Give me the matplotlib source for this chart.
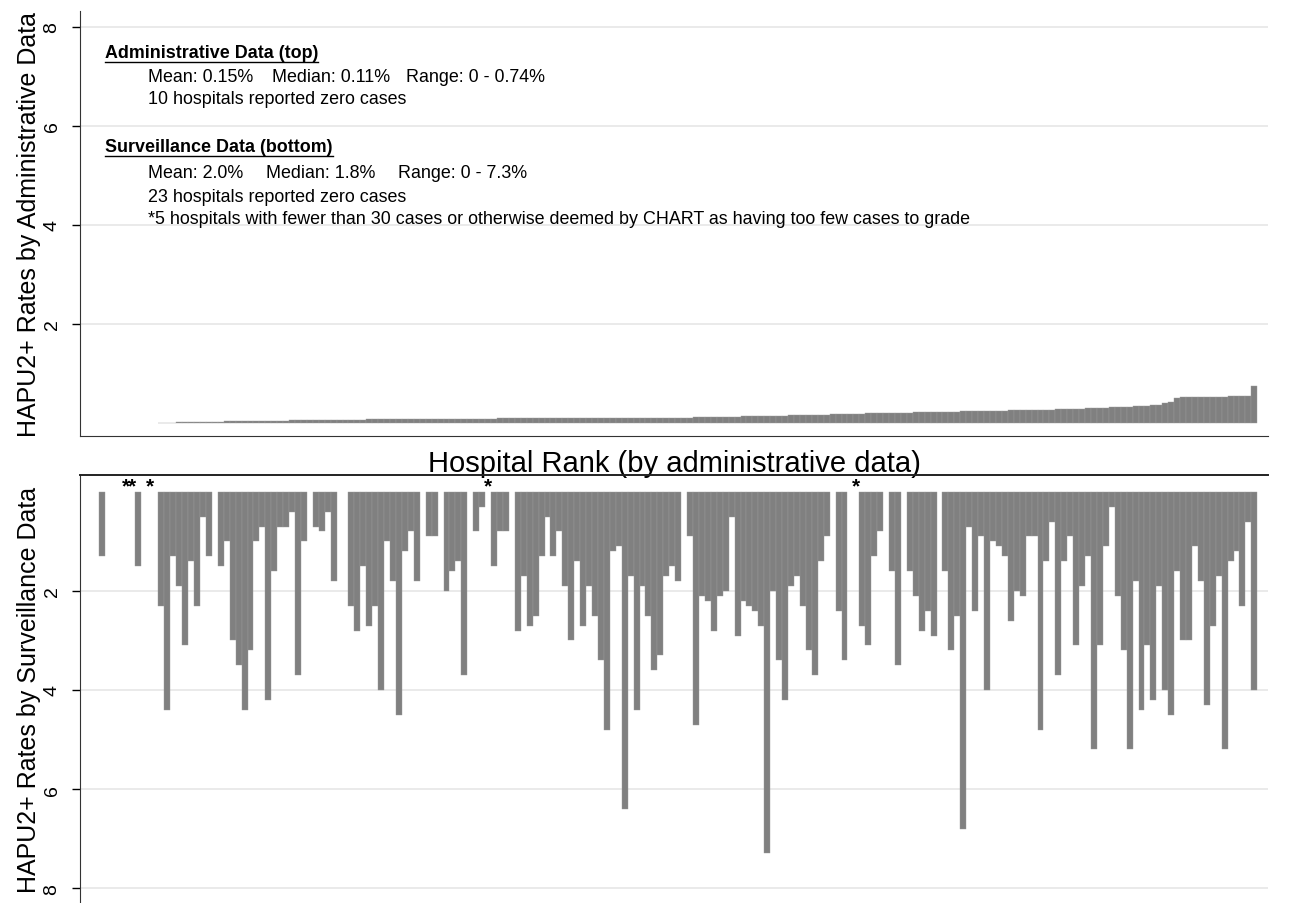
import matplotlib.pyplot as plt
from matplotlib.lines import Line2D

plt.rcParams['font.family'] = ['Liberation Sans', 'DejaVu Sans']

# HAPU2+ rate (%) per hospital, hospitals ordered by administrative rate
admin_rates = [
    0, 0, 0, 0, 0, 0, 0, 0, 0, 0,
    0.01, 0.01, 0.01, 0.02, 0.02, 0.02, 0.02, 0.03, 0.03, 0.03, 0.03,
    0.04, 0.04, 0.04, 0.04, 0.04, 0.05, 0.05, 0.05, 0.05, 0.05,
    0.05, 0.06, 0.06, 0.06, 0.06, 0.06, 0.06, 0.07, 0.07, 0.07,
    0.07, 0.07, 0.07, 0.07, 0.08, 0.08, 0.08, 0.08, 0.08, 0.08,
    0.08, 0.08, 0.08, 0.08, 0.09, 0.09, 0.09, 0.09, 0.09, 0.09,
    0.09, 0.09, 0.09, 0.09, 0.09, 0.09, 0.10, 0.10, 0.10, 0.10,
    0.10, 0.10, 0.10, 0.10, 0.10, 0.10, 0.10, 0.10, 0.10, 0.10,
    0.10, 0.10, 0.11, 0.11, 0.11, 0.11, 0.11, 0.11, 0.11, 0.11,
    0.11, 0.11, 0.11, 0.11, 0.11, 0.11, 0.11,
    0.11, 0.11, 0.12, 0.12, 0.12, 0.12, 0.13, 0.13, 0.13, 0.13,
    0.14, 0.14, 0.14, 0.14, 0.15, 0.15, 0.15, 0.15, 0.16, 0.16,
    0.16, 0.16, 0.17, 0.17, 0.17, 0.18, 0.18, 0.18, 0.19, 0.19,
    0.19, 0.20, 0.20,
    0.20, 0.20, 0.21, 0.21, 0.21, 0.21, 0.22, 0.22, 0.22, 0.22,
    0.23, 0.23, 0.23, 0.23, 0.24, 0.24, 0.24, 0.24, 0.25, 0.25,
    0.25, 0.25, 0.26, 0.26, 0.26, 0.26, 0.27, 0.27, 0.27, 0.27,
    0.28, 0.28, 0.28, 0.29, 0.29, 0.30, 0.30, 0.31, 0.31, 0.32,
    0.32, 0.33, 0.33, 0.34, 0.35, 0.35, 0.36, 0.37,
    0.40, 0.43, 0.50,
    0.52, 0.52, 0.53, 0.53, 0.53, 0.53, 0.53, 0.53, 0.54, 0.54, 0.54, 0.54,
    0.74,
]

# None = too few cases to grade (marked with *)
surv_rates = [
    1.3, 0, 0, 0, None, None, 1.5, 0, None, 0,
    2.3, 4.4, 1.3, 1.9, 3.1, 1.4, 2.3, 0.5, 1.3, 0,
    1.5, 1.0, 3.0, 3.5, 4.4, 3.2, 1.0, 0.7, 4.2, 1.6,
    0.7, 0.7, 0.4, 3.7, 1.0, 0, 0.7, 0.8, 0.4, 1.8,
    0, 0, 2.3, 2.8, 1.5, 2.7, 2.3, 4.0, 1.0, 1.8,
    4.5, 1.2, 0.8, 1.8, 0, 0.9, 0.9, 0, 2.0, 1.6,
    1.4, 3.7, 0, 0.8, 0.3, None, 1.5, 0.8, 0.8, 0,
    2.8, 1.7, 2.7, 2.5, 1.3, 0.5, 1.3, 0.8, 1.9, 3.0,
    1.4, 2.7, 1.9, 2.5, 3.4, 4.8, 1.2, 1.1, 6.4, 1.7,
    4.4, 1.9, 2.5, 3.6, 3.3, 1.7, 1.5, 1.8, 0, 0.9,
    4.7, 2.1, 2.2, 2.8, 2.1, 2.0, 0.5, 2.9, 2.2, 2.3,
    2.4, 2.7, 7.3, 2.0, 3.4, 4.2, 1.9, 1.7, 2.3, 3.2,
    3.7, 1.4, 0.9, 0, 2.4, 3.4, 0, None, 2.7, 3.1,
    1.3, 0.8, 0, 1.6, 3.5, 0, 1.6, 2.1, 2.8, 2.4,
    2.9, 0, 1.6, 3.2, 2.5, 6.8, 0.7, 2.4, 0.9, 4.0,
    1.0, 1.1, 1.3, 2.6, 2.0, 2.1, 0.9, 0.9, 4.8, 1.4,
    0.6, 3.7, 1.4, 0.9, 3.1, 1.9, 1.3, 5.2, 3.1, 1.1,
    0.3, 2.1, 3.2, 5.2, 1.8, 4.4, 3.1, 4.2, 1.9, 4.0,
    4.5, 1.6, 3.0, 3.0, 1.1, 1.8, 4.3, 2.7, 1.7, 5.2,
    1.4, 1.2, 2.3, 0.6, 4.0,
]

y_ticks = [2, 4, 6, 8]

admin_heading = "Administrative Data (top)"
admin_stats = ["Mean: 0.15%", "Median: 0.11%", "Range: 0 - 0.74%"]
admin_note = "10 hospitals reported zero cases"
surv_heading = "Surveillance Data (bottom)"
surv_stats = ["Mean: 2.0%", "Median: 1.8%", "Range: 0 - 7.3%"]
surv_notes = ["23 hospitals reported zero cases",
              "*5 hospitals with fewer than 30 cases or otherwise deemed by CHART as having too few cases to grade"]

BAR = "#808080"
EDGE = "#9a9a9a"
GRID = "#e8e8e8"
W, H = 1306, 904

ranks = list(range(len(admin_rates)))

fig = plt.figure(figsize=(W / 100, H / 100), dpi=100)
ax1 = fig.add_axes([80 / W, 1 - 437 / H, 1188 / W, 425 / H])
ax2 = fig.add_axes([80 / W, 0, 1188 / W, 428 / H])

# top panel: administrative data
a_x = [r for r, v in zip(ranks, admin_rates) if v > 0]
a_v = [v for v in admin_rates if v > 0]
ax1.bar(a_x, a_v, width=1.0, color=BAR, edgecolor=EDGE, linewidth=0.3)
ax1.set_ylim(-0.26, 8.32)

# bottom panel: surveillance data, hanging down
s_x = [r for r, v in zip(ranks, surv_rates) if v]
s_v = [v for v in surv_rates if v]
ax2.bar(s_x, s_v, width=1.0, color=BAR, edgecolor=EDGE, linewidth=0.3)
ax2.set_ylim(8.30, -0.34)
for r, v in zip(ranks, surv_rates):
    if v is None:
        ax2.text(r, -0.12, "*", ha="center", va="center", fontsize=15, fontweight="bold")

for ax in (ax1, ax2):
    ax.set_xlim(-3.7, 196.3)
    ax.set_xticks([])
    ax.set_yticks(y_ticks)
    ax.yaxis.grid(True, color=GRID, linewidth=1.3)
    ax.set_axisbelow(True)
    ax.tick_params(axis="y", labelrotation=90, labelsize=14, length=6, width=1, pad=8)
    for lab in ax.get_yticklabels():
        lab.set_verticalalignment("center")
    ax.spines["right"].set_visible(False)
    ax.spines["left"].set_color("#333333")

ax1.spines["top"].set_visible(False)
ax1.spines["bottom"].set_color("#333333")
ax2.spines["bottom"].set_visible(False)
ax2.spines["top"].set_color("#222222")
ax2.spines["top"].set_linewidth(1.4)

ax1.set_ylabel("HAPU2+ Rates by Administrative Data", fontsize=18)
ax2.set_ylabel("HAPU2+ Rates by Surveillance Data", fontsize=18)
ax1.yaxis.set_label_coords(-0.033, 0.5)
ax2.yaxis.set_label_coords(-0.033, 0.5)

ax2.set_xlabel("Hospital Rank (by administrative data)", fontsize=21, labelpad=3)
ax2.xaxis.set_label_position("top")

# annotation block
def ftext(x, y, s, size=12.9, **kw):
    return fig.text(x / W, 1 - y / H, s, ha="left", va="center", fontsize=size, **kw)

h1 = ftext(105, 53, admin_heading, fontweight="bold")
for x, s in zip([148, 272, 406], admin_stats):
    ftext(x, 77, s)
ftext(148, 99, admin_note)
h2 = ftext(105, 147, surv_heading, fontweight="bold")
for x, s in zip([148, 266, 398], surv_stats):
    ftext(x, 174, s)
for y, s in zip([197, 220], surv_notes):
    ftext(148, y, s)

fig.canvas.draw()
for h in (h1, h2):
    bb = h.get_window_extent()
    y = (bb.y0 - 1) / H
    fig.add_artist(Line2D([bb.x0 / W, bb.x1 / W], [y, y], transform=fig.transFigure,
                          color="black", linewidth=1))

fig.savefig("out.png", dpi=100)
